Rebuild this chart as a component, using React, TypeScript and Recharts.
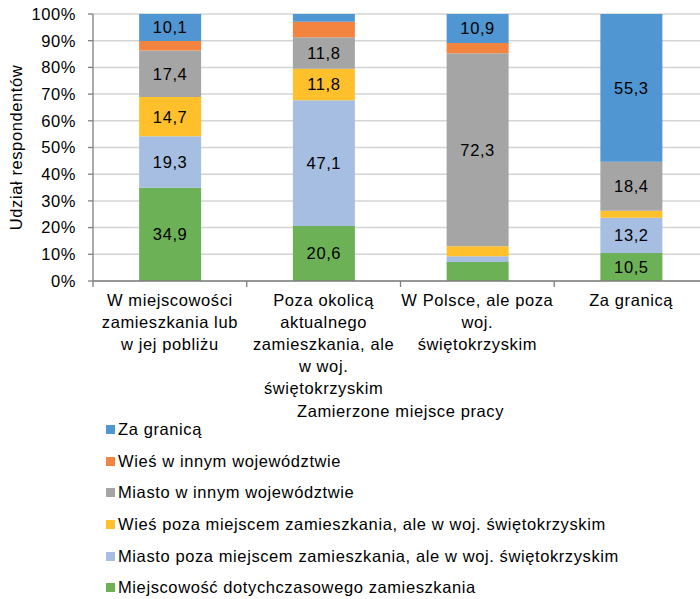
import React from "react";
import {
  BarChart,
  Bar,
  XAxis,
  YAxis,
  CartesianGrid,
  LabelList,
  Legend,
  Label,
} from "recharts";

const categories = [
  "W miejscowości\nzamieszkania lub\nw jej pobliżu",
  "Poza okolicą\naktualnego\nzamieszkania, ale\nw woj.\nświętokrzyskim",
  "W Polsce, ale poza\nwoj.\nświętokrzyskim",
  "Za granicą",
];

const miejscowosc = [34.9, 20.6, 7.1, 10.5];
const miastoSwiet = [19.3, 47.1, 2.2, 13.2];
const wiesSwiet = [14.7, 11.8, 3.7, 2.6];
const miastoInne = [17.4, 11.8, 72.3, 18.4];
const wiesInne = [3.6, 5.8, 3.8, 0];
const zaGranica = [10.1, 2.9, 10.9, 55.3];

const yTicks = [0, 10, 20, 30, 40, 50, 60, 70, 80, 90, 100];

const seriesNames = [
  "Miejscowość dotychczasowego zamieszkania",
  "Miasto poza miejscem zamieszkania, ale w woj. świętokrzyskim",
  "Wieś poza miejscem zamieszkania, ale w woj. świętokrzyskim",
  "Miasto w innym województwie",
  "Wieś w innym województwie",
  "Za granicą",
];
const seriesKeys = ["s0", "s1", "s2", "s3", "s4", "s5"];
const seriesColors = ["#6DB156", "#A6BEE1", "#FFC02B", "#A5A5A5", "#F3843F", "#4F96D2"];
const seriesValues = [miejscowosc, miastoSwiet, wiesSwiet, miastoInne, wiesInne, zaGranica];

const data = categories.map((c, i) => {
  const row: any = { name: c };
  seriesKeys.forEach((k, j) => {
    row[k] = seriesValues[j][i];
  });
  return row;
});

const FONT = "'Liberation Sans', Arial, sans-serif";
const LS = "0.6px";
const FS = 16.5;

const XTick = (props: any) => {
  const { x, y, payload } = props;
  const half = payload.offset || 0;
  const lines = String(payload.value).split("\n");
  return (
    <g>
      <line x1={x - half} x2={x - half} y1={y} y2={y + 6} stroke="#7f7f7f" strokeWidth={1.3} />
      {lines.map((l, i) => (
        <text
          key={i}
          x={x}
          y={y + 19 + i * 22}
          dy="0.35em"
          textAnchor="middle"
          fontSize={FS}
          fill="#000"
          style={{ letterSpacing: LS }}
        >
          {l}
        </text>
      ))}
    </g>
  );
};

const fmt = (v: any) => (typeof v === "number" && v >= 10 ? v.toFixed(1).replace(".", ",") : "");

const LegendContent = () => {
  const order = [5, 4, 3, 2, 1, 0];
  return (
    <div style={{ fontFamily: FONT, letterSpacing: LS }}>
      {order.map((j) => (
        <div
          key={j}
          style={{ height: 31.6, display: "flex", alignItems: "center", fontSize: FS, color: "#000", whiteSpace: "nowrap" }}
        >
          <span style={{ display: "inline-block", width: 9, height: 9, background: seriesColors[j], marginRight: 3 }} />
          <span>{seriesNames[j]}</span>
        </div>
      ))}
    </div>
  );
};

export default function App() {
  return (
    <div
      style={{
        position: "absolute",
        left: 0,
        top: 0,
        width: 700,
        height: 599,
        overflow: "hidden",
        background: "#fff",
        fontFamily: FONT,
      }}
    >
      <BarChart
        width={720}
        height={599}
        data={data}
        margin={{ top: 14, right: 12, left: 0, bottom: 178 }}
        barCategoryGap="30%"
      >
        <CartesianGrid vertical={false} stroke="#d4d4d4" strokeWidth={1.5} />
        <XAxis
          dataKey="name"
          height={140}
          interval={0}
          tickLine={false}
          tickSize={0}
          tickMargin={0}
          axisLine={{ stroke: "#7f7f7f", strokeWidth: 1.3 }}
          tick={<XTick />}
        >
          <Label
            content={(p: any) => {
              const vb = p.viewBox;
              return (
                <text
                  x={vb.x + vb.width / 2}
                  y={vb.y + 130}
                  dy="0.35em"
                  textAnchor="middle"
                  fontSize={FS}
                  fill="#000"
                  style={{ letterSpacing: LS }}
                >
                  Zamierzone miejsce pracy
                </text>
              );
            }}
          />
        </XAxis>
        <YAxis
          width={93}
          domain={[0, 100]}
          ticks={yTicks}
          interval={0}
          tickFormatter={(v: any) => `${v}%`}
          tickSize={5}
          tickMargin={12}
          tickLine={{ stroke: "#7f7f7f", strokeWidth: 1.3 }}
          axisLine={{ stroke: "#7f7f7f", strokeWidth: 1.3 }}
          tick={{ fontSize: FS, fill: "#000", style: { letterSpacing: LS } }}
        >
          <Label
            content={(p: any) => {
              const vb = p.viewBox;
              const cx = 16;
              const cy = vb.y + vb.height / 2;
              return (
                <text
                  x={cx}
                  y={cy}
                  dy="0.35em"
                  textAnchor="middle"
                  fontSize={FS}
                  fill="#000"
                  transform={`rotate(-90 ${cx} ${cy})`}
                  style={{ letterSpacing: LS }}
                >
                  Udział respondentów
                </text>
              );
            }}
          />
        </YAxis>
        <Legend
          layout="vertical"
          align="center"
          verticalAlign="middle"
          content={<LegendContent />}
          wrapperStyle={{ position: "absolute", left: 106, top: 414, width: 600, height: 190 }}
        />
        {seriesKeys.map((k, j) => (
          <Bar
            key={k}
            dataKey={k}
            name={seriesNames[j]}
            stackId="a"
            fill={seriesColors[j]}
            isAnimationActive={false}
          >
            <LabelList
              dataKey={k}
              position="center"
              formatter={fmt}
              fill="#000"
              fontSize={FS}
              style={{ letterSpacing: LS }}
            />
          </Bar>
        ))}
      </BarChart>
    </div>
  );
}
